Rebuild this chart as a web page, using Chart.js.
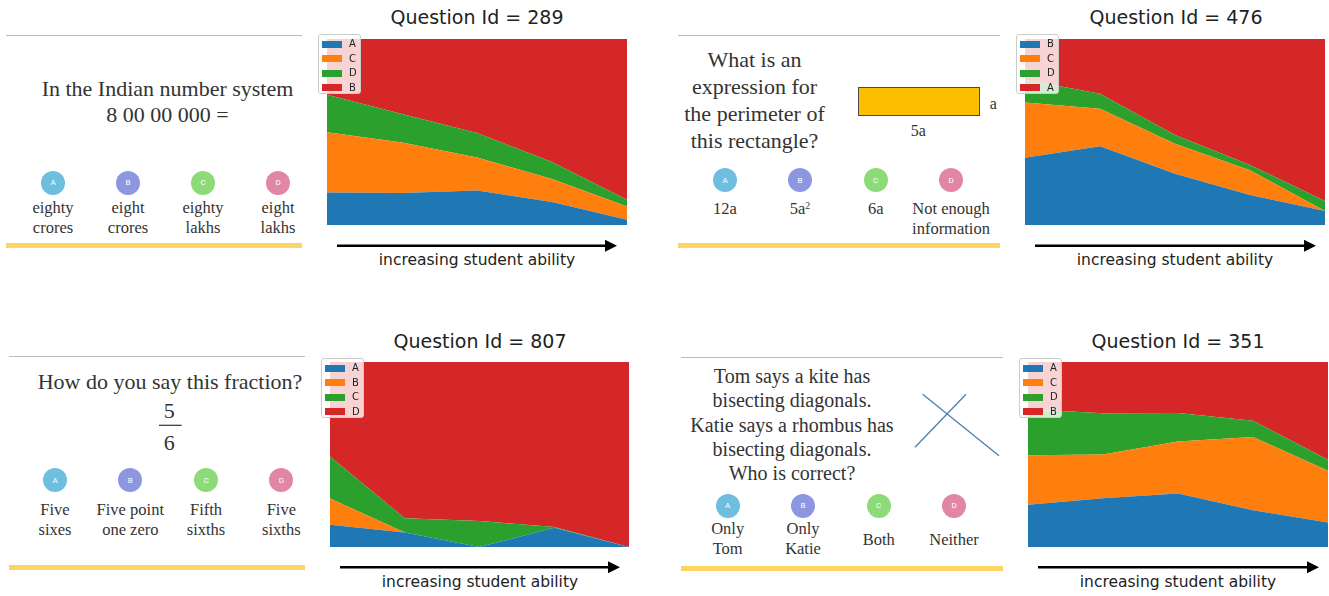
<!DOCTYPE html>
<html>
<head>
<meta charset="utf-8">
<script src="https://cdn.jsdelivr.net/npm/chart.js@4/dist/chart.umd.min.js"></script>
<style>
  html, body { margin: 0; padding: 0; }
  body { width: 1329px; height: 596px; position: relative; background: #fff; overflow: hidden; }
  .t { position: absolute; transform: translate(-50%, -50%); white-space: nowrap; line-height: 1; }
  .serif { font-family: "Liberation Serif", "DejaVu Serif", serif; color: #333; }
  .sans { font-family: "DejaVu Sans", sans-serif; color: #222; }
  .bar { position: absolute; }
  .circ { position: absolute; border-radius: 50%; transform: translate(-50%, -50%); color: #fff;
          font-family: Roboto, "DejaVu Sans", sans-serif; font-size: 8px; display: flex;
          align-items: center; justify-content: center; }
  canvas.plot { position: absolute; }
  .legend { position: absolute; background: rgba(255,255,255,0.8); border: 1px solid #ccc;
            border-radius: 3px; box-sizing: border-box; z-index: 5; }
  .legend .patch { position: absolute; }
  .legend .lab { position: absolute; font-family: "DejaVu Sans", sans-serif; font-size: 10px;
                 color: #222; line-height: 1; transform: translateY(-50%); }
  sup { font-size: 0.6em; vertical-align: 0; position: relative; top: -0.55em; }
  svg.overlay { position: absolute; left: 0; top: 0; }
</style>
</head>
<body>
<svg class="overlay" id="svg" width="1329" height="596"></svg>
<script>
// ---------------- data ----------------
const steps = ['1', '2', '3', '4', '5'];

// Question 289 (stack order bottom -> top)
const q289Order = ['A', 'C', 'D', 'B'];
const q289_A = [0.175, 0.172, 0.186, 0.124, 0.028];
const q289_C = [0.323, 0.272, 0.177, 0.123, 0.072];
const q289_D = [0.202, 0.153, 0.132, 0.092, 0.036];
const q289_B = [0.300, 0.403, 0.505, 0.661, 0.864];

// Question 476
const q476Order = ['B', 'C', 'D', 'A'];
const q476_B = [0.362, 0.423, 0.276, 0.161, 0.075];
const q476_C = [0.297, 0.202, 0.161, 0.133, 0.000];
const q476_D = [0.122, 0.081, 0.047, 0.029, 0.054];
const q476_A = [0.219, 0.294, 0.516, 0.677, 0.871];

// Question 807
const q807Order = ['A', 'B', 'C', 'D'];
const q807_A = [0.120, 0.079, 0.000, 0.104, 0.000];
const q807_B = [0.142, 0.000, 0.000, 0.000, 0.000];
const q807_C = [0.227, 0.077, 0.140, 0.004, 0.000];
const q807_D = [0.511, 0.844, 0.860, 0.892, 1.000];

// Question 351
const q351Order = ['A', 'C', 'D', 'B'];
const q351_A = [0.228, 0.264, 0.289, 0.198, 0.133];
const q351_C = [0.268, 0.236, 0.281, 0.396, 0.279];
const q351_D = [0.249, 0.223, 0.155, 0.089, 0.059];
const q351_B = [0.255, 0.277, 0.275, 0.317, 0.529];

const xAxisLabel = 'increasing student ability';
const optionLetters = ['A', 'B', 'C', 'D'];

const q289Text = ['In the Indian number system', '8 00 00 000 ='];
const q289Answers = [['eighty', 'crores'], ['eight', 'crores'], ['eighty', 'lakhs'], ['eight', 'lakhs']];
const q476Text = ['What is an', 'expression for', 'the perimeter of', 'this rectangle?'];
const q476Answers = [['12a'], ['5a<sup>2</sup>'], ['6a'], ['Not enough', 'information']];
const q807Text = ['How do you say this fraction?'];
const q807Answers = [['Five', 'sixes'], ['Five point', 'one zero'], ['Fifth', 'sixths'], ['Five', 'sixths']];
const q351Text = ['Tom says a kite has', 'bisecting diagonals.', 'Katie says a rhombus has', 'bisecting diagonals.', 'Who is correct?'];
const q351Answers = [['Only', 'Tom'], ['Only', 'Katie'], ['Both'], ['Neither']];

// ---------------- styles ----------------
const seriesColors = ['#1f77b4', '#ff7f0e', '#2ca02c', '#d62728'];
const circleColors = ['#6ebee0', '#8c97e0', '#8cdb78', '#e187a5'];

// ---------------- helpers ----------------
const SVGNS = 'http://www.w3.org/2000/svg';
const svg = document.getElementById('svg');
function svgEl(tag, attrs) {
  const e = document.createElementNS(SVGNS, tag);
  for (const k in attrs) e.setAttribute(k, attrs[k]);
  svg.appendChild(e);
  return e;
}
function text(x, y, html, size, cls) {
  const d = document.createElement('div');
  d.className = 't ' + cls;
  d.style.left = x + 'px';
  d.style.top = y + 'px';
  d.style.fontSize = size + 'px';
  d.innerHTML = html;
  document.body.appendChild(d);
  return d;
}
function rect(x, y, w, h, color) {
  const d = document.createElement('div');
  d.className = 'bar';
  Object.assign(d.style, { left: x + 'px', top: y + 'px', width: w + 'px', height: h + 'px', background: color });
  document.body.appendChild(d);
}
function circle(x, y, r, color, letter) {
  const d = document.createElement('div');
  d.className = 'circ';
  Object.assign(d.style, { left: x + 'px', top: y + 'px', width: 2 * r + 'px', height: 2 * r + 'px', background: color });
  d.textContent = letter;
  document.body.appendChild(d);
}
function panelFrame(x0, x1, yTop, yBot) {
  rect(x0, yTop - 0.5, x1 - x0, 1.3, '#b4bcc4');
  rect(x0, yBot, x1 - x0, 5, '#fcd565');
}
function options(xs, yCirc, yAns1, yAns2, yAnsSingle, answers) {
  xs.forEach((x, i) => {
    circle(x, yCirc, 12, circleColors[i], optionLetters[i]);
    const a = answers[i];
    if (a.length === 2) {
      text(x, yAns1, a[0], 16.5, 'serif');
      text(x, yAns2, a[1], 16.5, 'serif');
    } else {
      text(x, yAnsSingle, a[0], 16.5, 'serif');
    }
  });
}
function arrow(x0, x1, y) {
  svgEl('line', { x1: x0, y1: y, x2: x1 - 10, y2: y, stroke: '#000', 'stroke-width': 2.5 });
  svgEl('polygon', { points: `${x1},${y} ${x1 - 12},${y - 6} ${x1 - 12},${y + 6}`, fill: '#000' });
}
function legend(x, y, labels) {
  const box = document.createElement('div');
  box.className = 'legend';
  Object.assign(box.style, { left: x + 'px', top: y + 'px', width: '43px', height: '60px' });
  labels.forEach((l, i) => {
    const cy = 9.3 + i * 14.5;
    const p = document.createElement('div');
    p.className = 'patch';
    Object.assign(p.style, { left: '3px', top: (cy - 3.5) + 'px', width: '20px', height: '7px', background: seriesColors[i] });
    box.appendChild(p);
    const t = document.createElement('div');
    t.className = 'lab';
    t.style.left = '30px';
    t.style.top = cy + 'px';
    t.textContent = l;
    box.appendChild(t);
  });
  document.body.appendChild(box);
}
function areaChart(x, y, w, h, labels, series) {
  const c = document.createElement('canvas');
  c.className = 'plot';
  c.width = w; c.height = h;
  Object.assign(c.style, { left: x + 'px', top: y + 'px', width: w + 'px', height: h + 'px' });
  document.body.appendChild(c);
  new Chart(c, {
    type: 'line',
    data: {
      labels: steps,
      datasets: series.map((s, i) => ({
        label: labels[i],
        data: s,
        backgroundColor: seriesColors[i],
        borderColor: 'rgba(0,0,0,0)',
        borderWidth: 0,
        pointRadius: 0,
        tension: 0,
        fill: i === 0 ? 'origin' : '-1'
      }))
    },
    options: {
      responsive: false,
      animation: false,
      devicePixelRatio: 1,
      layout: { padding: 0 },
      scales: {
        x: { display: false, offset: false },
        y: { display: false, stacked: true, min: 0, max: 1 }
      },
      plugins: { legend: { display: false }, tooltip: { enabled: false }, title: { display: false } }
    }
  });
}

// ---------------- Panel 1 : Question 289 ----------------
panelFrame(6, 302, 35, 242.5);
text(167.5, 89, q289Text[0], 22, 'serif');
text(167.5, 115, q289Text[1], 22, 'serif');
options([53, 128, 203, 278], 182.5, 208, 228, 218, q289Answers);
areaChart(327, 39, 300, 186, q289Order, [q289_A, q289_C, q289_D, q289_B]);
legend(318, 34, q289Order);
text(477, 17, 'Question Id = 289', 19, 'sans');
arrow(337, 617, 245.7);
text(477, 261, xAxisLabel, 15.5, 'sans');

// ---------------- Panel 2 : Question 476 ----------------
panelFrame(678, 1000, 35, 242.7);
q476Text.forEach((s, i) => text(754.5, 60 + i * 27, s, 22, 'serif'));
(function () {
  const r = document.createElement('div');
  Object.assign(r.style, { position: 'absolute', left: '857.5px', top: '86.8px', width: '122.5px', height: '29.2px',
    background: '#fdbe00', border: '1.5px solid #4a4a4a', boxSizing: 'border-box' });
  document.body.appendChild(r);
})();
text(993.3, 103.5, 'a', 16, 'serif');
text(918.3, 131, '5a', 16, 'serif');
options([725, 800, 875.7, 951], 180, 209.3, 229.3, 209.3, q476Answers);
areaChart(1025, 39, 300, 186, q476Order, [q476_B, q476_C, q476_D, q476_A]);
legend(1016, 34, q476Order);
text(1176, 17, 'Question Id = 476', 19, 'sans');
arrow(1035, 1316, 245.7);
text(1175, 261, xAxisLabel, 15.5, 'sans');

// ---------------- Panel 3 : Question 807 ----------------
panelFrame(9, 305, 356.7, 565);
text(170, 381.7, q807Text[0], 22, 'serif');
text(169.3, 410.5, '5', 22, 'serif');
svgEl('line', { x1: 159, y1: 425.3, x2: 181.7, y2: 425.3, stroke: '#333', 'stroke-width': 1.2 });
text(169.3, 442.5, '6', 22, 'serif');
options([55, 130.3, 206, 281.3], 480, 510, 530, 520, q807Answers);
areaChart(330, 362, 299, 185, q807Order, [q807_A, q807_B, q807_C, q807_D]);
legend(321, 358, q807Order);
text(480, 341, 'Question Id = 807', 19, 'sans');
arrow(340, 620, 567.3);
text(480, 583, xAxisLabel, 15.5, 'sans');

// ---------------- Panel 4 : Question 351 ----------------
panelFrame(681, 1003, 357.7, 565.7);
q351Text.forEach((s, i) => text(792, 375.7 + i * 24.4, s, 20, 'serif'));
svgEl('line', { x1: 922.7, y1: 394.3, x2: 999, y2: 455.7, stroke: '#4a7fb0', 'stroke-width': 1.3 });
svgEl('line', { x1: 966, y1: 394.3, x2: 915, y2: 447.3, stroke: '#4a7fb0', 'stroke-width': 1.3 });
options([727.7, 803, 878.7, 954], 505.7, 529.3, 549.3, 540, q351Answers);
areaChart(1028, 362, 300, 185, q351Order, [q351_A, q351_C, q351_D, q351_B]);
legend(1019, 358, q351Order);
text(1178, 341, 'Question Id = 351', 19, 'sans');
arrow(1038, 1319, 567.3);
text(1178, 583, xAxisLabel, 15.5, 'sans');
</script>
</body>
</html>
